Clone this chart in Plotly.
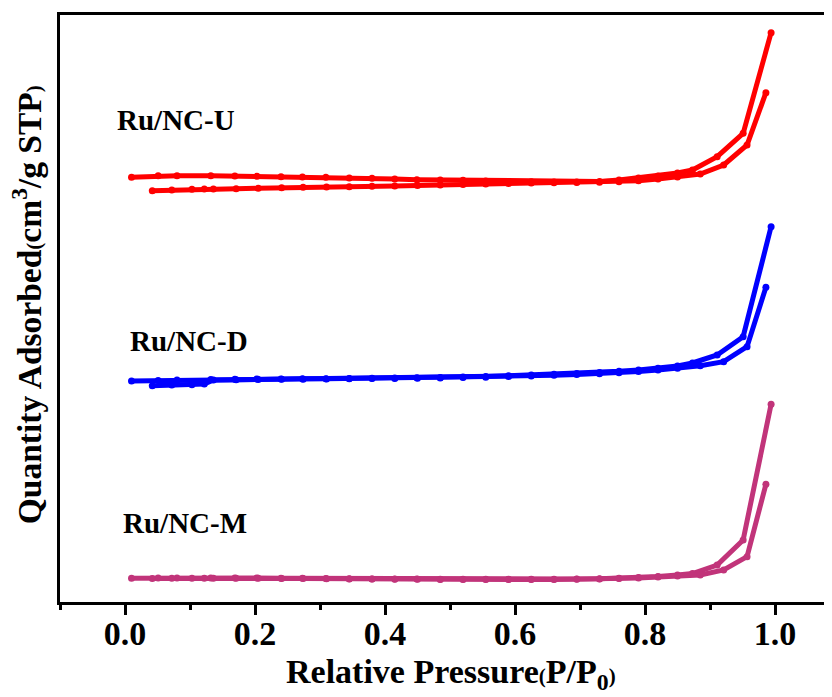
import plotly.graph_objects as go

# ---- data (arbitrary offset units) ----
x_des = [0.010, 0.051, 0.080, 0.132, 0.169, 0.203, 0.240, 0.273, 0.309, 0.345, 0.380, 0.415, 0.449, 0.485,
         0.520, 0.555, 0.590, 0.625, 0.660, 0.695, 0.730, 0.760, 0.790, 0.820, 0.850, 0.873, 0.911, 0.951, 0.994]
x_ads = [0.042, 0.072, 0.103, 0.122, 0.136, 0.171, 0.205, 0.241, 0.274, 0.310, 0.345, 0.380, 0.415, 0.450, 0.485,
         0.520, 0.555, 0.590, 0.625, 0.660, 0.695, 0.730, 0.760, 0.790, 0.820, 0.850, 0.885, 0.921, 0.957, 0.986]

u_des = [424.7, 426.3, 426.3, 426.3, 426.0, 425.7, 425.3, 425.0, 424.7, 424.0, 423.7, 423.0, 422.3, 422.0,
         421.7, 421.0, 420.5, 420.3, 420.0, 420.0, 420.5, 422.0, 424.0, 426.0, 429.0, 432.0, 445.3, 468.7, 569.3]
u_ads = [411.3, 412.0, 412.7, 412.9, 413.0, 413.3, 413.7, 414.3, 414.7, 415.0, 415.3, 415.7, 416.0, 416.5, 417.0,
         417.5, 418.0, 418.5, 419.0, 419.3, 419.5, 419.7, 420.3, 421.3, 423.0, 425.0, 428.0, 437.0, 457.0, 509.3]

d_des = [221.0, 221.5, 222.0, 222.5, 222.7, 223.0, 223.0, 223.2, 223.3, 223.5, 223.7, 224.0, 224.2, 224.5,
         225.0, 225.5, 226.3, 227.0, 227.7, 228.5, 229.5, 230.7, 232.0, 233.7, 236.0, 239.0, 247.0, 265.3, 375.3]
d_ads = [216.3, 217.0, 217.3, 218.0, 222.0, 222.3, 222.5, 222.7, 222.8, 223.0, 223.2, 223.4, 223.6, 223.8, 224.0,
         224.4, 224.8, 225.4, 226.0, 226.7, 227.4, 228.3, 229.3, 230.5, 232.0, 233.7, 236.3, 240.3, 255.3, 314.7]

m_des = [23.7, 24.0, 24.0, 24.0, 24.0, 24.0, 23.8, 23.7, 23.5, 23.3, 23.0, 23.0, 22.9, 22.8,
         22.8, 22.7, 22.7, 22.7, 22.8, 23.0, 23.3, 23.8, 24.5, 25.5, 27.0, 28.5, 37.0, 62.0, 197.7]
m_ads = [23.5, 23.7, 23.8, 23.8, 23.8, 23.8, 23.7, 23.6, 23.5, 23.3, 23.1, 22.9, 22.8, 22.7, 22.6,
         22.6, 22.5, 22.5, 22.5, 22.6, 22.8, 23.0, 23.4, 24.0, 25.0, 26.0, 27.0, 32.0, 45.3, 117.7]

samples = ["Ru/NC-U", "Ru/NC-D", "Ru/NC-M"]
colors = ["#FF0000", "#0000FF", "#C1347A"]
series = [(u_des, u_ads), (d_des, d_ads), (m_des, m_ads)]
label_pos = [(-0.015, 482), (0.004, 261), (-0.006, 79)]

x_ticks = [0.0, 0.2, 0.4, 0.6, 0.8, 1.0]
x_tick_text = ["0.0", "0.2", "0.4", "0.6", "0.8", "1.0"]

FONT = "Liberation Serif"

fig = go.Figure()
for name, col, (yd, ya) in zip(samples, colors, series):
    for xs, ys in ((x_des, yd), (x_ads, ya)):
        fig.add_trace(go.Scatter(
            x=xs, y=ys, mode="lines+markers", name=name, showlegend=False,
            line=dict(color=col, width=5),
            marker=dict(color=col, size=7),
        ))

for name, (lx, ly) in zip(samples, label_pos):
    fig.add_annotation(x=lx, y=ly, xref="x", yref="y", text="<b>%s</b>" % name,
                       showarrow=False, xanchor="left", yanchor="middle",
                       font=dict(family=FONT, size=29, color="black"))

# axis titles
fig.add_annotation(xref="paper", yref="paper", x=0.501, y=-0.1227, xanchor="center", yanchor="middle",
                   showarrow=False,
                   text="<b>Relative Pressure<span style='font-size:21px'>(</span>P/P<sub>0</sub><span style='font-size:21px'>)</span></b>",
                   font=dict(family=FONT, size=34, color="black"))
fig.add_annotation(xref="paper", yref="paper", x=-0.042, y=0.506, xanchor="center", yanchor="middle",
                   showarrow=False, textangle=-90,
                   text="<b>Quantity Adsorbed<span style='font-size:21px'>(</span>cm<sup>3</sup>/g STP<span style='font-size:21px'>)</span></b>",
                   font=dict(family=FONT, size=33.5, color="black"))

fig.update_layout(
    width=832, height=697,
    margin=dict(l=52, r=0, t=7, b=103, autoexpand=False),
    paper_bgcolor="white", plot_bgcolor="white",
    font=dict(family=FONT, color="black"),
    showlegend=False,
)
fig.update_xaxes(
    range=[-0.1, 1.1], showgrid=False, zeroline=False,
    showline=True, linecolor="black", linewidth=3, mirror=True,
    tickmode="array", tickvals=x_ticks, ticktext=["<b>%s</b>" % t for t in x_tick_text],
    ticks="outside", ticklen=10, tickwidth=3, tickcolor="black",
    tickfont=dict(family=FONT, size=34, color="black"),
    ticklabelstandoff=-11,
    minor=dict(tickvals=[-0.1, 0.1, 0.3, 0.5, 0.7, 0.9, 1.1], ticks="outside", ticklen=5, tickwidth=3, tickcolor="black"),
    automargin=False,
)
fig.update_yaxes(
    range=[0, 587], showgrid=False, zeroline=False,
    showline=True, linecolor="black", linewidth=3,
    showticklabels=False, ticks="", automargin=False,
)

fig.write_html("out.html")
